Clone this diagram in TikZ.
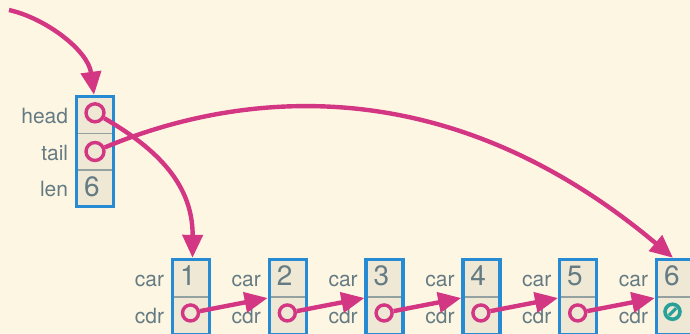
\documentclass[tikz,border=0pt]{standalone}
\usepackage{fontspec}
\setmainfont{TeX Gyre Heros}
\usetikzlibrary{arrows.meta}

\definecolor{paper}{HTML}{FDF6E3}
\definecolor{cellbg}{HTML}{EEE8D5}
\definecolor{framec}{HTML}{268BD2}
\definecolor{ptr}{HTML}{D33682}
\definecolor{ink}{HTML}{657B83}
\definecolor{rulec}{HTML}{93A1A1}
\definecolor{nilc}{HTML}{2AA198}

\tikzset{
  hcell/.style={minimum width=37pt, minimum height=36.67pt, inner sep=0pt, fill=cellbg},
  lcell/.style={minimum width=37pt, minimum height=37.5pt, inner sep=0pt, fill=cellbg},
  boxframe/.style={draw=framec, line width=3.4pt, inner sep=0pt, minimum width=37pt},
  seprule/.style={draw=rulec, line width=1.6pt},
  fieldlabel/.style={text=ink, font=\fontsize{21}{24}\selectfont, inner sep=0pt, anchor=base east},
  digit/.style={text=ink, font=\fontsize{28}{30}\selectfont, inner sep=0pt, anchor=base west},
  ptrdot/.style={circle, draw=ptr, line width=3.4pt, fill=cellbg, inner sep=0pt, minimum size=16pt},
  ptrline/.style={draw=ptr, line width=4.4pt, -{Triangle[length=23pt,width=20pt]}},
}

\begin{document}
\begin{tikzpicture}[x=1pt, y=-1pt]
  % page and background
  \fill[paper] (0,0) rectangle (690,334);
  \useasboundingbox (0,0) rectangle (690,334);
  \clip (0,0) rectangle (690,334);

  % ---- list header: head / tail / len ----
  \node[hcell] (hd) at (95,114.83) {};
  \node[hcell] (tl) at (95,151.5) {};
  \node[hcell] (ln) at (95,188.17) {};
  \draw[seprule] (hd.south west) -- (hd.south east);
  \draw[seprule] (tl.south west) -- (tl.south east);
  \node[boxframe, minimum height=110pt] (H) at (95,151.5) {};

  \node[fieldlabel] at ([xshift=-8pt,yshift=-8.2pt]hd.west) {head};
  \node[fieldlabel] at ([xshift=-8pt,yshift=-8.6pt]tl.west) {tail};
  \node[fieldlabel] at ([xshift=-8pt,yshift=-8.2pt]ln.west) {len};
  \node[digit] (lenval) at ([xshift=7.5pt,yshift=-8pt]ln.west) {6};

  \node[ptrdot, minimum size=18pt] (hp) at ([yshift=2pt]hd.center) {};
  \node[ptrdot, minimum size=18pt] (tp) at (tl.center) {};

  % ---- cons cells ----
  \foreach \i/\x in {1/191, 2/287.8, 3/384.6, 4/481.4, 5/578.2, 6/675} {
    \node[lcell] (c\i) at (\x,278.25) {};
    \node[lcell] (d\i) at (\x,315.75) {};
    \draw[seprule] (c\i.south west) -- (c\i.south east);
    \node[boxframe, minimum height=75pt] (B\i) at (\x,297) {};
    \node[fieldlabel] at ([xshift=-8pt,yshift=-7.8pt]c\i.west) {car};
    \node[fieldlabel] at ([xshift=-8pt,yshift=-7.9pt]d\i.west) {cdr};
    \node[digit] (v\i) at ([xshift=7.5pt,yshift=-7pt]c\i.west) {\i};
  }
  \foreach \i in {1,...,5} {
    \node[ptrdot] (p\i) at ([xshift=-0.5pt,yshift=2.8pt]d\i.center) {};
  }

  % empty list marker in the last cdr
  \node[circle, draw=nilc, fill=cellbg, line width=3.6pt, inner sep=0pt, minimum size=15pt]
    (nil) at ([xshift=-2.5pt,yshift=4pt]d6.center) {};
  \draw[nilc, line width=3.2pt]
    ([shift={(-3.6pt,-3.6pt)}]nil.center) -- ([shift={(3.6pt,3.6pt)}]nil.center);

  % ---- pointers ----
  \coordinate (origin) at (9,10);
  \draw[ptrline] (origin) .. controls (45,18) and (88,50) .. ([xshift=-1pt]H.north);

  \foreach \i/\j in {1/2, 2/3, 3/4, 4/5, 5/6} {
    \draw[ptrline] (p\i) -- ([yshift=-1pt]B\j.west);
  }

  \draw[ptrline] (hp) .. controls (150,145) and (193,180) .. ([xshift=1.5pt]B1.north);
  \draw[ptrline] (tp) .. controls (230,95) and (440,62) .. ([xshift=-2pt]B6.north);
\end{tikzpicture}
\end{document}
